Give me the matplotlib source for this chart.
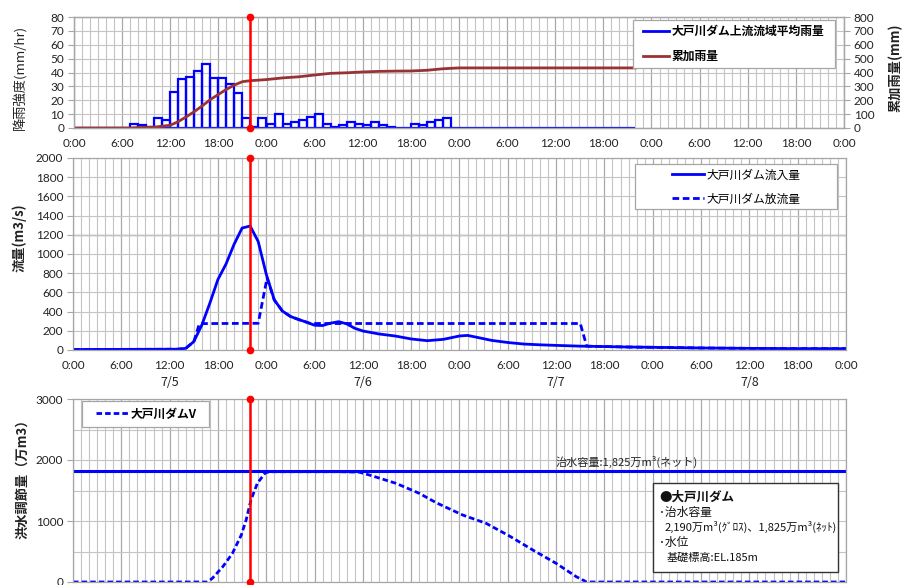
import matplotlib
matplotlib.use('Agg')
import matplotlib.pyplot as plt
import matplotlib.ticker as mt
from matplotlib.patches import Rectangle
from matplotlib.lines import Line2D

plt.rcParams['font.family'] = ['Noto Sans CJK JP', 'DejaVu Sans']

# ---------------- data ----------------
# hourly basin-average rainfall (mm/hr), hour 0 = 7/5 0:00
rain_hours = list(range(0, 70))
rain = [0, 0, 0, 0, 0, 0, 0,
        3, 2.5, 1, 7, 6, 26, 35, 37, 41, 46, 36, 36, 32, 25, 7,
        1, 7, 3, 10, 3, 4, 6, 8, 10, 3, 1, 2, 4, 3, 2, 4, 2, 0.5, 0, 0,
        3, 2, 4, 6, 7,
        0, 0, 0, 0, 0, 0, 0, 0, 0, 0, 0, 0, 0, 0, 0, 0, 0, 0, 0, 0, 0, 0, 0]

# cumulative rainfall (mm)
cum_hours = [0, 7, 8, 9, 10, 11, 12, 13, 14, 15, 16, 17, 18, 19, 20, 21, 22,
             24, 26, 28, 30, 32, 34, 36, 38, 40, 42, 44, 46, 48, 70]
cum_rain = [0, 0, 3, 5, 6, 13, 20, 46, 81, 118, 160, 205, 242, 278, 310, 334, 341,
            349, 361, 369, 382, 394, 398, 404, 408, 410, 411, 416, 427, 433, 433]

# inflow (m3/s)
in_hours = [0, 13, 14, 15, 16, 17, 18, 19, 20, 21, 22, 23, 24, 25, 26, 27, 28, 29,
            30, 31, 32, 33, 34, 35, 36, 38, 40, 42, 44, 46, 48, 49, 50, 52, 54,
            56, 58, 60, 63, 66, 69, 72, 78, 84, 90, 96]
inflow = [5, 8, 17, 87, 260, 489, 735, 895, 1100, 1270, 1292, 1130, 790, 521, 406,
          350, 318, 290, 258, 255, 280, 295, 272, 226, 198, 167, 146, 115, 97, 111,
          146, 152, 135, 100, 78, 62, 54, 48, 40, 36, 31, 28, 21, 17, 14, 14]

# outflow (m3/s)
out_hours = [0, 13, 14, 15, 15.7, 23, 24.1, 25, 26, 27, 28, 29, 29.5, 63, 63.8,
             66, 69, 72, 78, 84, 90, 96]
outflow = [5, 8, 17, 87, 275, 278, 750, 521, 406, 350, 318, 290, 276, 276, 40,
           36, 31, 28, 21, 17, 14, 14]

# flood control storage (10^4 m3)
v_hours = [0, 16.7, 17.3, 18.6, 19.8, 20.9, 21.5, 22.1, 22.9, 23.9, 24.5, 33,
           35.6, 37.2, 40.1, 43.0, 45.1, 48.4, 51.3, 54.2, 57.1, 60.0, 62.5, 63.8, 96]
storage = [0, 0, 60, 250, 470, 770, 1016, 1344, 1620, 1792, 1808, 1808,
           1800, 1738, 1618, 1454, 1300, 1098, 962, 754, 525, 306, 87, 0, 0]

capacity = 1825
event_hour = 22

tick_hours = list(range(0, 97, 6))
tick_labels = ['0:00', '6:00', '12:00', '18:00'] * 4 + ['0:00']
date_hours = [12, 36, 60, 84]
date_labels = ['7/5', '7/6', '7/7', '7/8']

BLUE = '#0000ff'
RED = '#ff0000'
CUMC = '#993333'
GRID = '#c4c4c4'
SPINE = '#a6a6a6'
TXT = '#222222'

W, H = 910, 585
fig = plt.figure(figsize=(9.1, 5.85), dpi=100)


def axpos(l, t, r, b):
    return [l / W, 1 - b / H, (r - l) / W, (b - t) / H]


def fx(x):
    return x / W


def fy(y):
    return 1 - y / H


def style(ax):
    ax.set_xlim(0, 96)
    ax.set_xticks(tick_hours)
    ax.set_xticklabels(tick_labels)
    ax.xaxis.set_minor_locator(mt.MultipleLocator(1))
    ax.grid(which='minor', axis='x', color=GRID, lw=0.8)
    ax.grid(which='major', axis='x', color='#a9a9a9', lw=0.9)
    ax.grid(which='major', axis='y', color=GRID, lw=0.8)
    for s in ax.spines.values():
        s.set_color(SPINE)
        s.set_linewidth(0.9)
    ax.tick_params(axis='x', which='both', length=0, pad=7, labelsize=8.5, labelcolor=TXT)
    ax.tick_params(axis='y', length=4, color=SPINE, pad=3, labelsize=8.5, labelcolor=TXT)
    ax.set_axisbelow(True)
    for lab in ax.get_xticklabels() + ax.get_yticklabels():
        lab.set_fontfamily(['Lato', 'DejaVu Sans'])


def framebox(l, t, r, b):
    rect = Rectangle((fx(l), fy(b)), (r - l) / W, (b - t) / H, transform=fig.transFigure,
                     facecolor='white', edgecolor=SPINE, lw=0.9, zorder=4)
    fig.add_artist(rect)


# ---------------- top panel ----------------
ax1 = fig.add_axes(axpos(74, 17, 844, 128))
ax1.bar(rain_hours, rain, width=1, align='edge', fill=False, edgecolor=BLUE, linewidth=1.6)
ax1.set_ylim(0, 80)
ax1.set_yticks(range(0, 81, 10))
style(ax1)
ax1r = ax1.twinx()
ax1r.set_ylim(0, 800)
ax1r.set_yticks(range(0, 801, 100))
ax1r.plot(cum_hours, cum_rain, color=CUMC, lw=2)
ax1r.plot([event_hour, event_hour], [0, 800], color=RED, lw=1.8, marker='o', ms=4.5, clip_on=False, zorder=6)
ax1r.tick_params(axis='y', length=4, color=SPINE, pad=3, labelsize=8.5, labelcolor=TXT)
for s in ax1r.spines.values():
    s.set_color(SPINE)
    s.set_linewidth(0.9)
for lab in ax1r.get_yticklabels():
    lab.set_fontfamily(['Lato', 'DejaVu Sans'])

framebox(633, 20, 835, 68)
fig.legend([Line2D([], [], color=BLUE, lw=2), Line2D([], [], color=CUMC, lw=2)],
           ['大戸川ダム上流流域平均雨量', '累加雨量'], loc='center',
           bbox_to_anchor=(fx(734), fy(44)), frameon=False, fontsize=8.5,
           handlelength=2.2, handletextpad=0.2, labelspacing=1.0,
           prop={'weight': 'bold', 'size': 8.5})

fig.text(fx(20), fy(77), '降雨強度(mm/hr)', rotation=90, ha='center', va='center', fontsize=9.5, color=TXT)
fig.text(fx(895), fy(68), '累加雨量(mm)', rotation=90, ha='center', va='center', fontsize=9.5,
         color=TXT, fontweight='bold')

# ---------------- middle panel ----------------
ax2 = fig.add_axes(axpos(73, 158, 846, 350))
ax2.set_ylim(0, 2000)
ax2.set_yticks(range(0, 2001, 200))
ax2.axhline(1200, color='#8c8c8c', lw=1.0, zorder=0.5)
ax2.plot(out_hours, outflow, color=BLUE, lw=2, linestyle=(0, (2.4, 1.3)))
ax2.plot(in_hours, inflow, color=BLUE, lw=2)
ax2.plot([event_hour, event_hour], [0, 2000], color=RED, lw=1.8, marker='o', ms=4.5, clip_on=False, zorder=6)
style(ax2)
for h, d in zip(date_hours, date_labels):
    ax2.text(h, -0.17, d, transform=ax2.get_xaxis_transform(), ha='center', va='center',
             fontsize=9, color=TXT)

framebox(635, 164, 837, 209)
fig.legend([Line2D([], [], color=BLUE, lw=2), Line2D([], [], color=BLUE, lw=2, linestyle=(0, (2.4, 1.3)))],
           ['大戸川ダム流入量', '大戸川ダム放流量'], loc='center',
           bbox_to_anchor=(fx(736), fy(187)), frameon=False, fontsize=8.5,
           handlelength=2.7, handletextpad=0.2, labelspacing=0.95)

fig.text(fx(19), fy(238), '流量(m3/s)', rotation=90, ha='center', va='center', fontsize=9.5,
         color=TXT, fontweight='bold')

# ---------------- bottom panel ----------------
ax3 = fig.add_axes(axpos(73, 399, 846, 582))
ax3.set_ylim(0, 3000)
ax3.set_yticks(range(0, 3001, 1000))
ax3.yaxis.set_minor_locator(mt.MultipleLocator(500))
ax3.grid(which='minor', axis='y', color=GRID, lw=0.8)
ax3.plot(v_hours, storage, color=BLUE, lw=2, linestyle=(0, (2.0, 1.1)))
ax3.axhline(capacity, color=BLUE, lw=2.2)
ax3.plot([event_hour, event_hour], [0, 3000], color=RED, lw=1.8, marker='o', ms=4.5, clip_on=False, zorder=6)
style(ax3)
ax3.tick_params(axis='y', which='minor', length=0)
# the x labels of the lowest panel lie below the visible page in the reference
ax3.tick_params(axis='x', labelbottom=False)
ax3.text(68.8, 1960, '治水容量:1,825万m³(ネット)', ha='center', va='center', fontsize=8, color=TXT)

framebox(82, 401, 209, 427)
fig.legend([Line2D([], [], color=BLUE, lw=2, linestyle=(0, (2.0, 1.1)))],
           ['大戸川ダムV'], loc='center', bbox_to_anchor=(fx(146), fy(414)), frameon=False,
           handlelength=2.7, handletextpad=0.2, prop={'weight': 'bold', 'size': 8.5})

fig.text(fx(22), fy(476), '洪水調節量（万m3）', rotation=90, ha='center', va='center', fontsize=9.5,
         color=TXT, fontweight='bold')

# info box
ax3.add_patch(Rectangle((0.75, 0.056), 0.24, 0.487, transform=ax3.transAxes,
                        facecolor='white', edgecolor='#333333', lw=1.0, zorder=5))
info = [('●大戸川ダム', 0.466, 0.758, 'bold', 9),
        ('･治水容量', 0.379, 0.758, 'normal', 8.5),
        ('2,190万m³(ｸﾞﾛｽ)、1,825万m³(ﾈｯﾄ)', 0.299, 0.765, 'normal', 8),
        ('･水位', 0.215, 0.758, 'normal', 8.5),
        ('基礎標高:EL.185m', 0.133, 0.768, 'normal', 8)]
for s, y, x, w, fs in info:
    ax3.text(x, y, s, transform=ax3.transAxes, ha='left', va='center', fontsize=fs,
             fontweight=w, color='#111111', zorder=6)

fig.savefig('out.png', dpi=100)
